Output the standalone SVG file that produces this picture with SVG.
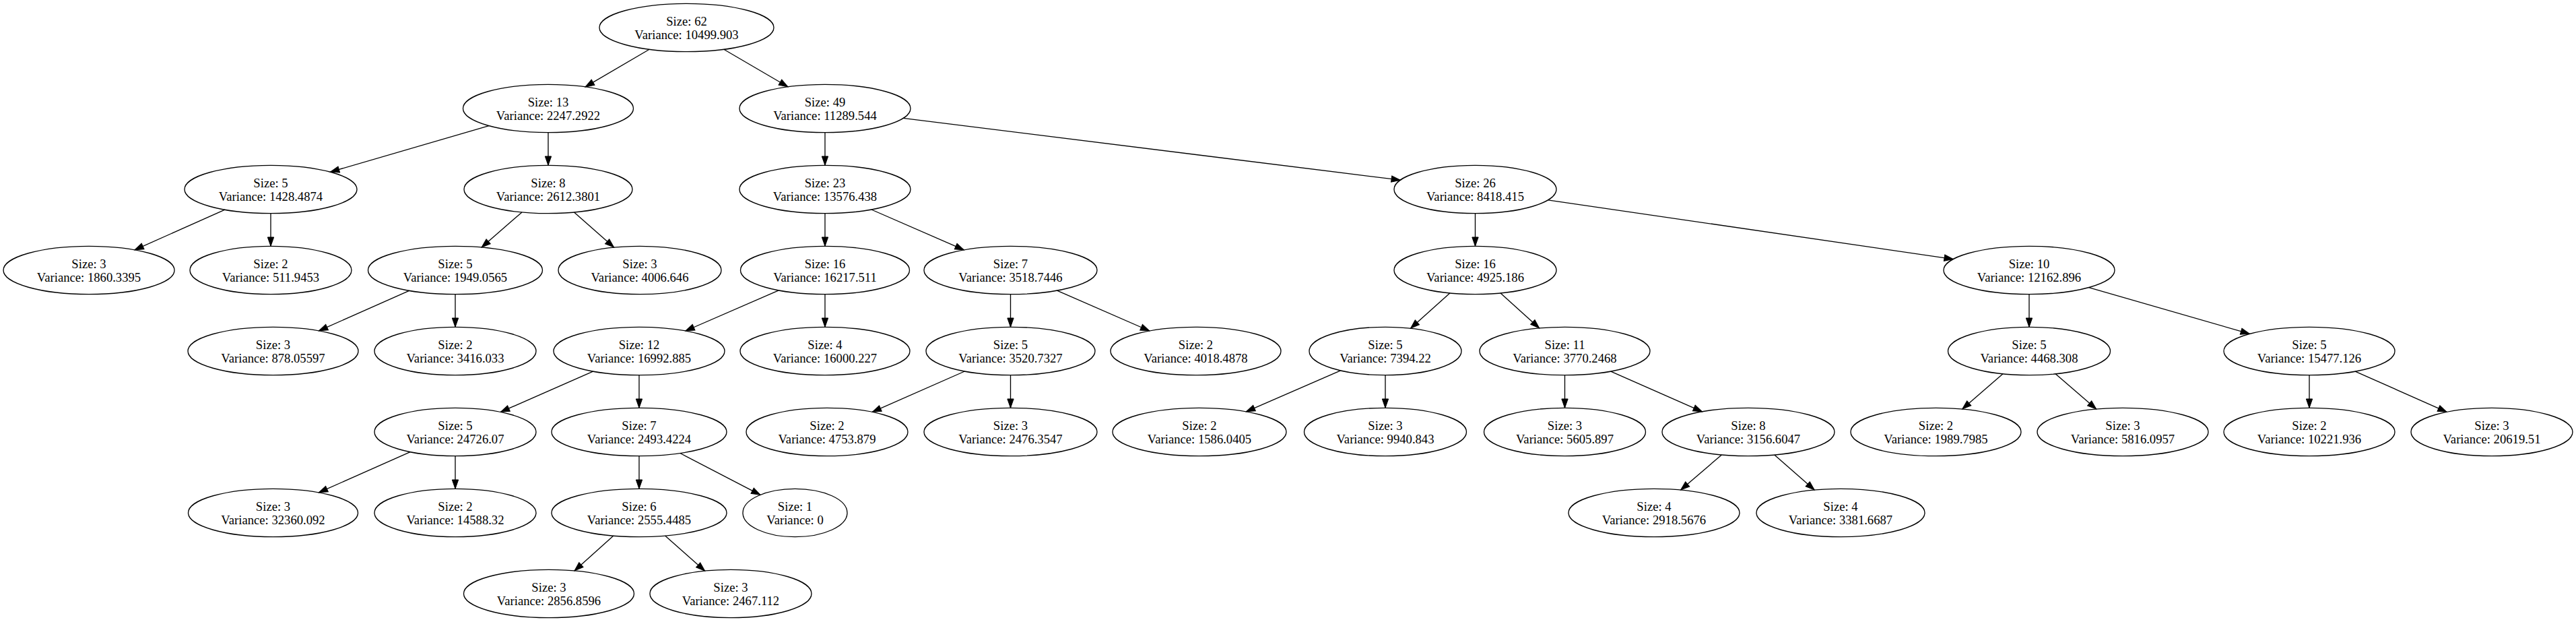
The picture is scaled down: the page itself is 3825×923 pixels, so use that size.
<svg xmlns="http://www.w3.org/2000/svg" width="3825" height="923" viewBox="0 0 3825 923">
<style>
.node ellipse{fill:none;stroke:#000;stroke-width:1.33}
.node text{font-family:"Liberation Serif","Times New Roman",serif;font-size:18.67px;text-anchor:middle;fill:#000}
#edges line{stroke:#000;stroke-width:1.33;fill:none;marker-end:url(#arr)}
</style>
<defs>
<marker id="arr" markerUnits="userSpaceOnUse" markerWidth="14" markerHeight="10" viewBox="0 0 14 10" refX="13.33" refY="4.67" orient="auto" overflow="visible">
<path d="M0,0 L13.33,4.67 L0,9.33 Z" fill="#000" stroke="#000" stroke-width="1"/>
</marker>
</defs>
<rect x="0" y="0" width="3825" height="923" fill="#fff"/>
<g id="edges">
<line x1="964.2" y1="73.3" x2="869.1" y2="128.9"/>
<line x1="1074.8" y1="73.3" x2="1169.9" y2="128.8"/>
<line x1="726.0" y1="186.6" x2="490.5" y2="255.2"/>
<line x1="814" y1="196.7" x2="814" y2="245.3"/>
<line x1="1225" y1="196.7" x2="1225" y2="245.3"/>
<line x1="1341.1" y1="175.4" x2="2079.4" y2="267.2"/>
<line x1="334.0" y1="311.2" x2="199.9" y2="370.8"/>
<line x1="402" y1="316.7" x2="402" y2="365.3"/>
<line x1="775.0" y1="314.9" x2="715.1" y2="367.0"/>
<line x1="852.5" y1="315.0" x2="911.6" y2="367.1"/>
<line x1="1225" y1="316.7" x2="1225" y2="365.3"/>
<line x1="1293.9" y1="311.0" x2="1431.4" y2="370.9"/>
<line x1="2190.5" y1="316.7" x2="2190.5" y2="365.3"/>
<line x1="2298.6" y1="296.8" x2="2900.3" y2="384.6"/>
<line x1="607.6" y1="431.3" x2="473.4" y2="490.9"/>
<line x1="676" y1="436.7" x2="676" y2="485.3"/>
<line x1="1156.3" y1="430.9" x2="1017.9" y2="491.0"/>
<line x1="1225" y1="436.7" x2="1225" y2="485.3"/>
<line x1="1500.5" y1="436.7" x2="1500.5" y2="485.3"/>
<line x1="1569.5" y1="431.1" x2="1706.8" y2="491.0"/>
<line x1="2152.8" y1="434.9" x2="2094.5" y2="487.3"/>
<line x1="2228.1" y1="434.9" x2="2285.7" y2="486.9"/>
<line x1="3013" y1="436.7" x2="3013" y2="485.3"/>
<line x1="3101.6" y1="426.6" x2="3340.4" y2="495.4"/>
<line x1="880.6" y1="551.1" x2="743.3" y2="611.4"/>
<line x1="949" y1="556.7" x2="949" y2="605.3"/>
<line x1="1432.4" y1="551.0" x2="1295.2" y2="611.4"/>
<line x1="1500.5" y1="556.7" x2="1500.5" y2="605.3"/>
<line x1="1990.6" y1="549.9" x2="1850.3" y2="610.9"/>
<line x1="2057" y1="556.7" x2="2057" y2="605.3"/>
<line x1="2323.5" y1="556.7" x2="2323.5" y2="605.3"/>
<line x1="2391.8" y1="551.1" x2="2527.5" y2="610.8"/>
<line x1="2974.0" y1="554.8" x2="2913.7" y2="607.1"/>
<line x1="3052.1" y1="554.8" x2="3112.7" y2="607.1"/>
<line x1="3429" y1="556.7" x2="3429" y2="605.3"/>
<line x1="3497.1" y1="551.1" x2="3633.1" y2="611.4"/>
<line x1="609.2" y1="670.7" x2="473.3" y2="730.9"/>
<line x1="676" y1="676.7" x2="676" y2="725.3"/>
<line x1="949" y1="676.7" x2="949" y2="725.3"/>
<line x1="1009.9" y1="672.5" x2="1129.0" y2="734.3"/>
<line x1="2556.4" y1="674.9" x2="2495.6" y2="727.1"/>
<line x1="2634.8" y1="675.0" x2="2694.2" y2="727.1"/>
<line x1="910.9" y1="795.1" x2="853.0" y2="846.9"/>
<line x1="987.6" y1="795.1" x2="1046.7" y2="847.2"/>
</g>
<g id="n0" class="node"><ellipse cx="1019.5" cy="41" rx="129.5" ry="35.7"/><text><tspan x="1019.5" y="37.7">Size: 62</tspan><tspan x="1019.5" y="57.7">Variance: 10499.903</tspan></text></g>
<g id="n1" class="node"><ellipse cx="814" cy="161" rx="126.5" ry="35.7"/><text><tspan x="814" y="157.7">Size: 13</tspan><tspan x="814" y="177.7">Variance: 2247.2922</tspan></text></g>
<g id="n2" class="node"><ellipse cx="1225" cy="161" rx="127" ry="35.7"/><text><tspan x="1225" y="157.7">Size: 49</tspan><tspan x="1225" y="177.7">Variance: 11289.544</tspan></text></g>
<g id="n3" class="node"><ellipse cx="402" cy="281" rx="128" ry="35.7"/><text><tspan x="402" y="277.7">Size: 5</tspan><tspan x="402" y="297.7">Variance: 1428.4874</tspan></text></g>
<g id="n4" class="node"><ellipse cx="814" cy="281" rx="125" ry="35.7"/><text><tspan x="814" y="277.7">Size: 8</tspan><tspan x="814" y="297.7">Variance: 2612.3801</tspan></text></g>
<g id="n5" class="node"><ellipse cx="1225" cy="281" rx="127" ry="35.7"/><text><tspan x="1225" y="277.7">Size: 23</tspan><tspan x="1225" y="297.7">Variance: 13576.438</tspan></text></g>
<g id="n6" class="node"><ellipse cx="2190.5" cy="281" rx="120.5" ry="35.7"/><text><tspan x="2190.5" y="277.7">Size: 26</tspan><tspan x="2190.5" y="297.7">Variance: 8418.415</tspan></text></g>
<g id="n7" class="node"><ellipse cx="132" cy="401" rx="127" ry="35.7"/><text><tspan x="132" y="397.7">Size: 3</tspan><tspan x="132" y="417.7">Variance: 1860.3395</tspan></text></g>
<g id="n8" class="node"><ellipse cx="402" cy="401" rx="120" ry="35.7"/><text><tspan x="402" y="397.7">Size: 2</tspan><tspan x="402" y="417.7">Variance: 511.9453</tspan></text></g>
<g id="n9" class="node"><ellipse cx="676" cy="401" rx="129.5" ry="35.7"/><text><tspan x="676" y="397.7">Size: 5</tspan><tspan x="676" y="417.7">Variance: 1949.0565</tspan></text></g>
<g id="n10" class="node"><ellipse cx="950" cy="401" rx="121" ry="35.7"/><text><tspan x="950" y="397.7">Size: 3</tspan><tspan x="950" y="417.7">Variance: 4006.646</tspan></text></g>
<g id="n11" class="node"><ellipse cx="1225" cy="401" rx="125.5" ry="35.7"/><text><tspan x="1225" y="397.7">Size: 16</tspan><tspan x="1225" y="417.7">Variance: 16217.511</tspan></text></g>
<g id="n12" class="node"><ellipse cx="1500.5" cy="401" rx="128.5" ry="35.7"/><text><tspan x="1500.5" y="397.7">Size: 7</tspan><tspan x="1500.5" y="417.7">Variance: 3518.7446</tspan></text></g>
<g id="n13" class="node"><ellipse cx="2190.5" cy="401" rx="120.5" ry="35.7"/><text><tspan x="2190.5" y="397.7">Size: 16</tspan><tspan x="2190.5" y="417.7">Variance: 4925.186</tspan></text></g>
<g id="n14" class="node"><ellipse cx="3013" cy="401" rx="127" ry="35.7"/><text><tspan x="3013" y="397.7">Size: 10</tspan><tspan x="3013" y="417.7">Variance: 12162.896</tspan></text></g>
<g id="n15" class="node"><ellipse cx="405.5" cy="521" rx="126.5" ry="35.7"/><text><tspan x="405.5" y="517.7">Size: 3</tspan><tspan x="405.5" y="537.7">Variance: 878.05597</tspan></text></g>
<g id="n16" class="node"><ellipse cx="676" cy="521" rx="120" ry="35.7"/><text><tspan x="676" y="517.7">Size: 2</tspan><tspan x="676" y="537.7">Variance: 3416.033</tspan></text></g>
<g id="n17" class="node"><ellipse cx="949" cy="521" rx="127" ry="35.7"/><text><tspan x="949" y="517.7">Size: 12</tspan><tspan x="949" y="537.7">Variance: 16992.885</tspan></text></g>
<g id="n18" class="node"><ellipse cx="1225" cy="521" rx="126" ry="35.7"/><text><tspan x="1225" y="517.7">Size: 4</tspan><tspan x="1225" y="537.7">Variance: 16000.227</tspan></text></g>
<g id="n19" class="node"><ellipse cx="1500.5" cy="521" rx="125.5" ry="35.7"/><text><tspan x="1500.5" y="517.7">Size: 5</tspan><tspan x="1500.5" y="537.7">Variance: 3520.7327</tspan></text></g>
<g id="n20" class="node"><ellipse cx="1775.5" cy="521" rx="126.5" ry="35.7"/><text><tspan x="1775.5" y="517.7">Size: 2</tspan><tspan x="1775.5" y="537.7">Variance: 4018.4878</tspan></text></g>
<g id="n21" class="node"><ellipse cx="2057" cy="521" rx="113" ry="35.7"/><text><tspan x="2057" y="517.7">Size: 5</tspan><tspan x="2057" y="537.7">Variance: 7394.22</tspan></text></g>
<g id="n22" class="node"><ellipse cx="2323.5" cy="521" rx="126.5" ry="35.7"/><text><tspan x="2323.5" y="517.7">Size: 11</tspan><tspan x="2323.5" y="537.7">Variance: 3770.2468</tspan></text></g>
<g id="n23" class="node"><ellipse cx="3013" cy="521" rx="120.5" ry="35.7"/><text><tspan x="3013" y="517.7">Size: 5</tspan><tspan x="3013" y="537.7">Variance: 4468.308</tspan></text></g>
<g id="n24" class="node"><ellipse cx="3429" cy="521" rx="127" ry="35.7"/><text><tspan x="3429" y="517.7">Size: 5</tspan><tspan x="3429" y="537.7">Variance: 15477.126</tspan></text></g>
<g id="n25" class="node"><ellipse cx="676" cy="641" rx="120" ry="35.7"/><text><tspan x="676" y="637.7">Size: 5</tspan><tspan x="676" y="657.7">Variance: 24726.07</tspan></text></g>
<g id="n26" class="node"><ellipse cx="949" cy="641" rx="130" ry="35.7"/><text><tspan x="949" y="637.7">Size: 7</tspan><tspan x="949" y="657.7">Variance: 2493.4224</tspan></text></g>
<g id="n27" class="node"><ellipse cx="1228" cy="641" rx="120" ry="35.7"/><text><tspan x="1228" y="637.7">Size: 2</tspan><tspan x="1228" y="657.7">Variance: 4753.879</tspan></text></g>
<g id="n28" class="node"><ellipse cx="1500.5" cy="641" rx="128.5" ry="35.7"/><text><tspan x="1500.5" y="637.7">Size: 3</tspan><tspan x="1500.5" y="657.7">Variance: 2476.3547</tspan></text></g>
<g id="n29" class="node"><ellipse cx="1781" cy="641" rx="129" ry="35.7"/><text><tspan x="1781" y="637.7">Size: 2</tspan><tspan x="1781" y="657.7">Variance: 1586.0405</tspan></text></g>
<g id="n30" class="node"><ellipse cx="2057" cy="641" rx="120.5" ry="35.7"/><text><tspan x="2057" y="637.7">Size: 3</tspan><tspan x="2057" y="657.7">Variance: 9940.843</tspan></text></g>
<g id="n31" class="node"><ellipse cx="2323.5" cy="641" rx="120" ry="35.7"/><text><tspan x="2323.5" y="637.7">Size: 3</tspan><tspan x="2323.5" y="657.7">Variance: 5605.897</tspan></text></g>
<g id="n32" class="node"><ellipse cx="2596" cy="641" rx="128" ry="35.7"/><text><tspan x="2596" y="637.7">Size: 8</tspan><tspan x="2596" y="657.7">Variance: 3156.6047</tspan></text></g>
<g id="n33" class="node"><ellipse cx="2874.5" cy="641" rx="126.5" ry="35.7"/><text><tspan x="2874.5" y="637.7">Size: 2</tspan><tspan x="2874.5" y="657.7">Variance: 1989.7985</tspan></text></g>
<g id="n34" class="node"><ellipse cx="3152" cy="641" rx="127" ry="35.7"/><text><tspan x="3152" y="637.7">Size: 3</tspan><tspan x="3152" y="657.7">Variance: 5816.0957</tspan></text></g>
<g id="n35" class="node"><ellipse cx="3429" cy="641" rx="127" ry="35.7"/><text><tspan x="3429" y="637.7">Size: 2</tspan><tspan x="3429" y="657.7">Variance: 10221.936</tspan></text></g>
<g id="n36" class="node"><ellipse cx="3700" cy="641" rx="120" ry="35.7"/><text><tspan x="3700" y="637.7">Size: 3</tspan><tspan x="3700" y="657.7">Variance: 20619.51</tspan></text></g>
<g id="n37" class="node"><ellipse cx="405.5" cy="761" rx="126" ry="35.7"/><text><tspan x="405.5" y="757.7">Size: 3</tspan><tspan x="405.5" y="777.7">Variance: 32360.092</tspan></text></g>
<g id="n38" class="node"><ellipse cx="676" cy="761" rx="120" ry="35.7"/><text><tspan x="676" y="757.7">Size: 2</tspan><tspan x="676" y="777.7">Variance: 14588.32</tspan></text></g>
<g id="n39" class="node"><ellipse cx="949" cy="761" rx="130" ry="35.7"/><text><tspan x="949" y="757.7">Size: 6</tspan><tspan x="949" y="777.7">Variance: 2555.4485</tspan></text></g>
<g id="n40" class="node"><ellipse cx="1180.5" cy="761" rx="77.5" ry="35.7"/><text><tspan x="1180.5" y="757.7">Size: 1</tspan><tspan x="1180.5" y="777.7">Variance: 0</tspan></text></g>
<g id="n41" class="node"><ellipse cx="2456" cy="761" rx="127" ry="35.7"/><text><tspan x="2456" y="757.7">Size: 4</tspan><tspan x="2456" y="777.7">Variance: 2918.5676</tspan></text></g>
<g id="n42" class="node"><ellipse cx="2733" cy="761" rx="125" ry="35.7"/><text><tspan x="2733" y="757.7">Size: 4</tspan><tspan x="2733" y="777.7">Variance: 3381.6687</tspan></text></g>
<g id="n43" class="node"><ellipse cx="815" cy="881" rx="126.5" ry="35.7"/><text><tspan x="815" y="877.7">Size: 3</tspan><tspan x="815" y="897.7">Variance: 2856.8596</tspan></text></g>
<g id="n44" class="node"><ellipse cx="1085" cy="881" rx="120" ry="35.7"/><text><tspan x="1085" y="877.7">Size: 3</tspan><tspan x="1085" y="897.7">Variance: 2467.112</tspan></text></g>
</svg>
